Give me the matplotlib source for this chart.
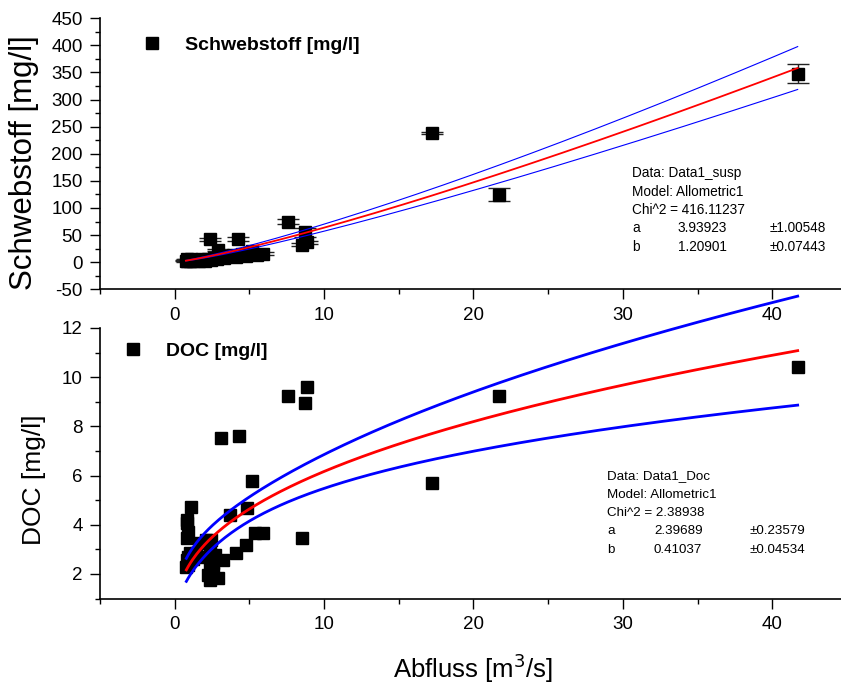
import numpy as np
import matplotlib.pyplot as plt
from matplotlib.ticker import MultipleLocator

plt.rcParams['font.family'] = ['Liberation Sans', 'DejaVu Sans']
plt.rcParams['axes.unicode_minus'] = False

# Schwebstoff (suspended solids) vs discharge
q_susp = [0.75, 0.8, 0.85, 0.9, 1.0, 1.1, 1.2, 1.4, 1.6, 1.8, 2.0, 2.2, 2.35, 2.4,
          2.6, 2.8, 2.9, 3.0, 3.3, 3.6, 3.9, 4.1, 4.25, 4.5, 4.8, 5.0, 5.2, 5.5,
          5.9, 7.58, 8.5, 8.7, 8.85, 17.2, 21.7, 41.7]
susp = [3, 2, 5, 4, 3, 6, 2, 4, 3, 5, 2, 6, 42, 4,
        7, 5, 22, 9, 8, 11, 13, 10, 43, 15, 12, 17, 20, 14,
        16, 75, 32, 55, 37, 239, 124, 348]
susp_err = [1, 1, 1, 1, 1, 1, 1, 1, 1, 1, 1, 1, 2, 1,
            1, 1, 2, 1, 1, 1, 1, 1, 3, 1, 1, 2, 2, 1,
            2, 4, 3, 8, 3, 2, 12, 18]

# DOC vs discharge
q_doc = [0.78, 0.85, 0.89, 0.89, 0.85, 0.89, 0.85, 0.85, 1.11, 1.0, 1.2, 1.45,
         1.67, 1.89, 2.12, 2.34, 2.45, 2.68, 2.34, 2.23, 2.34, 2.57, 2.9, 2.57,
         3.23, 3.12, 3.68, 4.28, 4.12, 4.8, 4.84, 5.2, 5.36, 5.91, 7.58, 8.52,
         8.7, 8.85, 17.2, 21.7, 41.7]
doc = [2.30, 2.57, 2.37, 2.70, 3.45, 3.72, 4.05, 4.20, 4.74, 2.85, 2.6, 2.84,
       3.25, 2.70, 3.38, 3.04, 3.38, 2.77, 2.30, 1.96, 1.76, 2.03, 1.83, 2.43,
       2.57, 7.52, 4.40, 7.62, 2.87, 3.18, 4.67, 5.78, 3.65, 3.65, 9.24, 3.45,
       8.96, 9.61, 5.69, 9.24, 10.41]

# Allometric1 fits y = a * x^b  (a, b, err a, err b)
fit_susp = (3.93923, 1.20901, 1.00548, 0.07443)
fit_doc = (2.39689, 0.41037, 0.23579, 0.04534)


def fit_curves(x, fit, rho, t):
    a, b, sa, sb = fit
    f = a * x ** b
    L = np.log(x)
    rel = np.sqrt((sa / a) ** 2 + (sb * L) ** 2 + 2 * rho * (sa / a) * sb * L)
    return f, f * (1 - t * rel), f * (1 + t * rel)


W, H = 841, 687
fig = plt.figure(figsize=(W / 100, H / 100), dpi=100)
ax1 = fig.add_axes([100 / W, 1 - 289.3 / H, 741 / W, 271 / H])
ax2 = fig.add_axes([100 / W, 1 - 598.5 / H, 741 / W, 270.5 / H])

for ax in (ax1, ax2):
    ax.spines[['top', 'right']].set_visible(False)
    for s in ('left', 'bottom'):
        ax.spines[s].set_linewidth(1.2)
    ax.set_xlim(-5, 44.6)
    ax.xaxis.set_major_locator(MultipleLocator(10))
    ax.xaxis.set_minor_locator(MultipleLocator(5))
    ax.tick_params(which='major', direction='out', length=7.5, width=1.0,
                   labelsize=13.5, pad=5)
    ax.tick_params(which='minor', direction='out', length=3.6, width=1.0)

# top panel
ax1.set_ylim(-50, 450)
ax1.yaxis.set_major_locator(MultipleLocator(50))
ax1.yaxis.set_minor_locator(MultipleLocator(25))
ax1.errorbar(q_susp, susp, yerr=susp_err, fmt='none', ecolor='#222222',
             elinewidth=1, capsize=8, capthick=1, zorder=2)
ax1.plot(q_susp, susp, 's', color='black', ms=8, label='Schwebstoff [mg/l]', zorder=3)
xs = np.linspace(min(q_susp), max(q_susp), 300)
f, lo, hi = fit_curves(xs, fit_susp, -0.8, 0.65)
ax1.plot(xs, hi, color='blue', lw=0.8, zorder=4)
ax1.plot(xs, lo, color='blue', lw=0.8, zorder=4)
ax1.plot(xs, f, color='red', lw=1.3, zorder=5)
ax1.set_ylabel('Schwebstoff [mg/l]', fontsize=22.5, va='center')
ax1.yaxis.set_label_coords(-0.1026, 0.468)
ax1.legend(loc='center left', bbox_to_anchor=(0.0571, 0.9015), frameon=False,
           borderpad=0, borderaxespad=0, handlelength=1.0, handletextpad=1.2,
           prop={'weight': 'bold', 'size': 14})

# bottom panel
ax2.set_ylim(1, 12)
ax2.yaxis.set_major_locator(MultipleLocator(2))
ax2.yaxis.set_minor_locator(MultipleLocator(1))
ax2.plot(q_doc, doc, 's', color='black', ms=8, label='DOC [mg/l]', zorder=3)
xd = np.linspace(min(q_doc), max(q_doc), 300)
f, lo, hi = fit_curves(xd, fit_doc, -0.85, 2.0)
ax2.plot(xd, hi, color='blue', lw=2.0, clip_on=False, zorder=4)
ax2.plot(xd, lo, color='blue', lw=2.0, clip_on=False, zorder=4)
ax2.plot(xd, f, color='red', lw=2.0, clip_on=False, zorder=5)
ax2.set_ylabel('DOC [mg/l]', fontsize=19, va='center')
ax2.yaxis.set_label_coords(-0.089, 0.438)
ax2.set_xlabel('Abfluss [m$^3$/s]', fontsize=18.5, va='center')
ax2.xaxis.set_label_coords(0.503, -0.258)
ax2.legend(loc='center left', bbox_to_anchor=(0.0314, 0.915), frameon=False,
           borderpad=0, borderaxespad=0, handlelength=1.0, handletextpad=1.2,
           prop={'weight': 'bold', 'size': 14})

# fit parameter text
def fit_box(x0, xs_col, rows_y, name, chi, fit, size):
    a, b, sa, sb = fit
    lines = [f'Data: {name}', 'Model: Allometric1', f'Chi^2 = {chi}']
    for txt, y in zip(lines, rows_y[:3]):
        fig.text(x0 / W, 1 - y / H, txt, fontsize=size, va='center')
    for (lab, v, e), y in zip([('a', a, sa), ('b', b, sb)], rows_y[3:]):
        fig.text(x0 / W, 1 - y / H, lab, fontsize=size, va='center')
        fig.text(xs_col[0] / W, 1 - y / H, f'{v:.5f}', fontsize=size, va='center')
        fig.text(xs_col[1] / W, 1 - y / H, f'\u00b1{e:.5f}', fontsize=size, va='center')

fit_box(632, (678, 770), [173, 191.5, 210, 228.5, 247], 'Data1_susp', '416.11237', fit_susp, 9.8)
fit_box(607, (654, 750), [476, 494.5, 513, 531.5, 550], 'Data1_Doc', '2.38938', fit_doc, 9.6)

fig.savefig('out.png', dpi=100)
